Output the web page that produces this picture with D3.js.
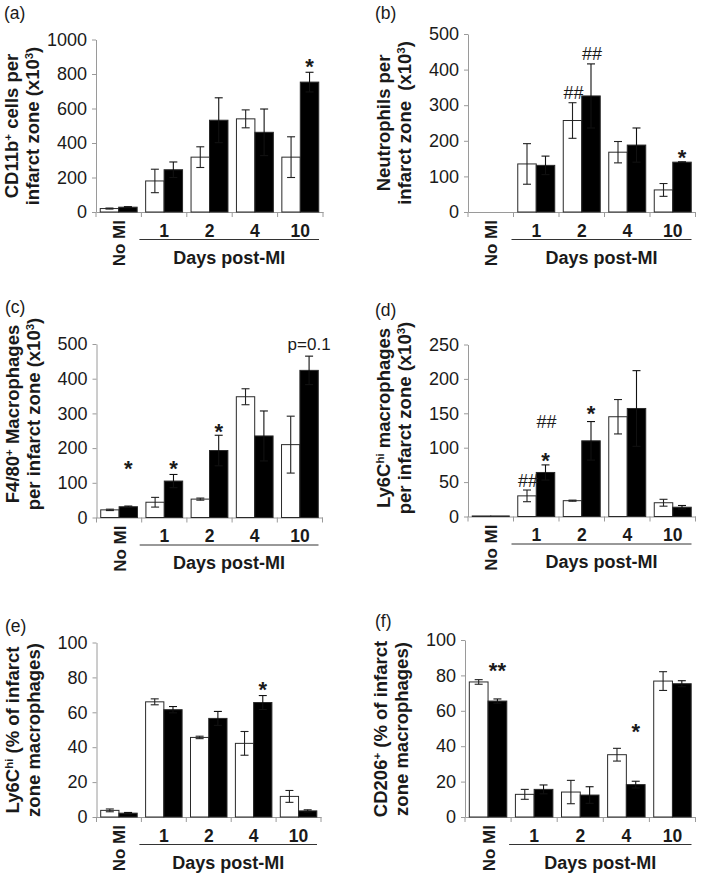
<!DOCTYPE html>
<html><head><meta charset="utf-8">
<script src="https://cdn.jsdelivr.net/npm/d3@7"></script>
<style>
body{margin:0;background:#fff;}
svg{display:block;font-family:"Liberation Sans",Arial,Helvetica,sans-serif;}
</style></head><body>
<svg id="chart" width="709" height="873"></svg>
<script>
// ---------- DATA ----------
const categories = ["No MI", "1", "2", "4", "10"];
const seriesNames = ["white", "black"];
const xGroupLabel = "Days post-MI";

// (a) CD11b+ cells
const aWhite = [20, 180, 318, 540, 318], aWhiteErr = [3, 68, 60, 52, 118];
const aBlack = [28, 245, 532, 462, 753], aBlackErr = [3, 45, 130, 135, 57];
const aTicks = [0, 200, 400, 600, 800, 1000];
const aNotes = [{cat: "10", s: "black", label: "*", level: 874}];

// (b) Neutrophils
const bWhite = [0, 135, 257, 168, 62], bWhiteErr = [0, 57, 50, 30, 18];
const bBlack = [0, 131, 326, 188, 140], bBlackErr = [0, 26, 90, 48, 1];
const bTicks = [0, 100, 200, 300, 400, 500];
const bNotes = [{cat: "2", s: "white", label: "##", level: 336},
                {cat: "2", s: "black", label: "##", level: 444},
                {cat: "10", s: "black", label: "*", level: 169}];

// (c) F4/80+ macrophages
const cWhite = [22, 44, 53, 348, 210], cWhiteErr = [2, 14, 3, 23, 82];
const cBlack = [31, 105, 193, 235, 424], cBlackErr = [2, 19, 44, 72, 41];
const cTicks = [0, 100, 200, 300, 400, 500];
const cNotes = [{cat: "No MI", s: "black", label: "*", level: 157},
                {cat: "1", s: "black", label: "*", level: 157},
                {cat: "2", s: "black", label: "*", level: 264},
                {cat: "10", s: "black", label: "p=0.1", level: 499}];

// (d) Ly6Chi macrophages
const dWhite = [0.8, 30, 23, 145, 20], dWhiteErr = [0, 8.5, 0.8, 25, 5];
const dBlack = [0.8, 64, 110, 157, 13.5], dBlackErr = [0, 11, 28, 55, 2.5];
const dTicks = [0, 50, 100, 150, 200, 250];
const dNotes = [{cat: "1", s: "white", label: "##", level: 53},
                {cat: "1", s: "black", label: "*", level: 89},
                {cat: "1", s: "black", label: "##", level: 138},
                {cat: "2", s: "black", label: "*", level: 158}];

// (e) Ly6Chi % of macrophages
const eWhite = [3.8, 66, 45.6, 42.2, 11.8], eWhiteErr = [0.8, 1.7, 0.7, 6.8, 3.4];
const eBlack = [2.2, 61.5, 56.5, 65.6, 3.5], eBlackErr = [0.4, 1.8, 4, 4, 0.6];
const eTicks = [0, 20, 40, 60, 80, 100];
const eNotes = [{cat: "4", s: "black", label: "*", level: 76}];

// (f) CD206+ % of macrophages
const fWhite = [76.3, 12.8, 14.1, 35.2, 76.8], fWhiteErr = [1.3, 2.8, 6.6, 3.6, 5.3];
const fBlack = [65.5, 15.6, 12.4, 18.3, 75.3], fBlackErr = [1.2, 2.5, 4.7, 1.9, 1.7];
const fTicks = [0, 20, 40, 60, 80, 100];
const fNotes = [{cat: "No MI", s: "black", label: "**", level: 86},
                {cat: "4", s: "black", label: "*", level: 51}];

// y-axis titles (segments; sup = superscript)
const aTitle = [[{t: "CD11b"}, {t: "+", sup: 1}, {t: " cells per"}], [{t: "infarct zone (x10"}, {t: "3", sup: 1}, {t: ")"}]];
const bTitle = [[{t: "Neutrophils per"}], [{t: "infarct zone \u00a0(x10"}, {t: "3", sup: 1}, {t: ")"}]];
const cTitle = [[{t: "F4/80"}, {t: "+", sup: 1}, {t: " Macrophages"}], [{t: "per infarct zone (x10"}, {t: "3", sup: 1}, {t: ")"}]];
const dTitle = [[{t: "Ly6C"}, {t: "hi", sup: 1}, {t: " macrophages"}], [{t: "per infarct zone (x10"}, {t: "3", sup: 1}, {t: ")"}]];
const eTitle = [[{t: "Ly6C"}, {t: "hi", sup: 1}, {t: " (% of infarct"}], [{t: "zone macrophages)"}]];
const fTitle = [[{t: "CD206"}, {t: "+", sup: 1}, {t: " (% of infarct"}], [{t: "zone macrophages)"}]];

const panelLetters = ["(a)", "(b)", "(c)", "(d)", "(e)", "(f)"];

// ---------- LAYOUT ----------
const panels = [
  {white: aWhite, whiteErr: aWhiteErr, black: aBlack, blackErr: aBlackErr, ticks: aTicks, notes: aNotes, title: aTitle,
   x0: 96, x1: 323, y0: 212, yTop: 39.5, tcy: 126, lx: 4, ly: 19},
  {white: bWhite, whiteErr: bWhiteErr, black: bBlack, blackErr: bBlackErr, ticks: bTicks, notes: bNotes, title: bTitle,
   x0: 468, x1: 695.5, y0: 212, yTop: 34, tcy: 123, lx: 375, ly: 19},
  {white: cWhite, whiteErr: cWhiteErr, black: cBlack, blackErr: cBlackErr, ticks: cTicks, notes: cNotes, title: cTitle,
   x0: 96.5, x1: 322.5, y0: 517.5, yTop: 344, tcy: 414, lx: 5, ly: 313},
  {white: dWhite, whiteErr: dWhiteErr, black: dBlack, blackErr: dBlackErr, ticks: dTicks, notes: dNotes, title: dTitle,
   x0: 468, x1: 695.5, y0: 516.5, yTop: 344.5, tcy: 418, lx: 375, ly: 316},
  {white: eWhite, whiteErr: eWhiteErr, black: eBlack, blackErr: eBlackErr, ticks: eTicks, notes: eNotes, title: eTitle,
   x0: 96.5, x1: 321, y0: 817, yTop: 642.5, tcy: 730, lx: 5, ly: 632},
  {white: fWhite, whiteErr: fWhiteErr, black: fBlack, blackErr: fBlackErr, ticks: fTicks, notes: fNotes, title: fTitle,
   x0: 465, x1: 695.5, y0: 817, yTop: 640, tcy: 729, lx: 375, ly: 627}
];

const svg = d3.select("#chart");
const TEXT = "#1a1a1a", AXIS = "#9a9a9a";

function addSegments(sel, segs) {
  let back = false;
  segs.forEach(s => {
    const ts = sel.append("tspan").text(s.t);
    if (s.sup) {
      ts.attr("dy", "-0.5em").attr("font-size", "0.62em");
      back = true;
    } else if (back) {
      ts.attr("dy", "0.31em");
      back = false;
    }
  });
}

panels.forEach((p, i) => {
  const g = svg.append("g");
  const x = d3.scaleBand().domain(categories).range([p.x0, p.x1]).paddingInner(0).paddingOuter(0);
  const xs = d3.scaleBand().domain(seriesNames).range([0, x.bandwidth()]).paddingInner(0).paddingOuter(0.23);
  const y = d3.scaleLinear().domain([0, d3.max(p.ticks)]).range([p.y0, p.yTop]);

  // y axis
  const ya = g.append("g").attr("transform", `translate(${p.x0},0)`)
    .call(d3.axisLeft(y).tickValues(p.ticks).tickSize(4).tickSizeOuter(0).tickPadding(5).tickFormat(d3.format("d")));
  ya.select(".domain").attr("stroke", AXIS);
  ya.selectAll(".tick line").attr("stroke", AXIS);
  ya.selectAll(".tick text").attr("font-size", 18).attr("fill", TEXT)
    .attr("font-family", "'Liberation Sans', Arial, sans-serif");

  // x axis line + boundary ticks
  const xa = g.append("g").attr("transform", `translate(0,${p.y0})`)
    .call(d3.axisBottom(x).tickSize(0).tickSizeOuter(0).tickFormat(""));
  xa.select(".domain").attr("stroke", AXIS);
  xa.selectAll(".tick").remove();
  const bounds = categories.map(c => x(c)).concat([p.x1]);
  g.selectAll(".bt").data(bounds).enter().append("line")
    .attr("x1", d => d).attr("x2", d => d).attr("y1", p.y0).attr("y2", p.y0 + 5)
    .attr("stroke", AXIS);

  // bars
  const rows = [];
  categories.forEach((c, k) => {
    rows.push({c, s: "white", v: p.white[k], e: p.whiteErr[k]});
    rows.push({c, s: "black", v: p.black[k], e: p.blackErr[k]});
  });
  g.selectAll(".bar").data(rows.filter(r => r.v > 0)).enter().append("rect")
    .attr("x", r => x(r.c) + xs(r.s))
    .attr("y", r => y(r.v))
    .attr("width", xs.bandwidth())
    .attr("height", r => p.y0 - y(r.v))
    .attr("fill", r => r.s === "white" ? "#fff" : "#000")
    .attr("stroke", "#2a2a2a").attr("stroke-width", 1);

  // error bars
  const capW = 8;
  const eb = g.selectAll(".eb").data(rows.filter(r => r.e > 0)).enter().append("g")
    .attr("stroke", r => r.s === "white" ? "#222" : "#111").attr("stroke-width", 1.1);
  const cx = r => x(r.c) + xs(r.s) + xs.bandwidth() / 2;
  eb.append("line").attr("x1", cx).attr("x2", cx).attr("y1", r => y(Math.max(0, r.v - r.e))).attr("y2", r => y(r.v + r.e));
  eb.append("line").attr("x1", r => cx(r) - capW / 2).attr("x2", r => cx(r) + capW / 2).attr("y1", r => y(r.v + r.e)).attr("y2", r => y(r.v + r.e));
  eb.append("line").attr("x1", r => cx(r) - capW / 2).attr("x2", r => cx(r) + capW / 2).attr("y1", r => y(Math.max(0, r.v - r.e))).attr("y2", r => y(Math.max(0, r.v - r.e)));

  // annotations
  p.notes.forEach(n => {
    const isStar = /^\*+$/.test(n.label);
    const isHash = /^#+$/.test(n.label);
    const fs = isStar ? 22 : (isHash ? 18 : 17);
    const off = isStar ? 0.58 : 0.36;
    g.append("text")
      .attr("x", x(n.cat) + xs(n.s) + xs.bandwidth() / 2 + (isHash ? 1 : 0))
      .attr("y", y(n.level) + off * fs)
      .attr("text-anchor", "middle")
      .attr("font-size", fs)
      .attr("font-weight", isStar ? "bold" : "normal")
      .attr("fill", TEXT)
      .text(n.label);
  });

  // category labels
  categories.forEach(c => {
    const cxC = x(c) + x.bandwidth() / 2;
    if (c === "No MI") {
      g.append("text")
        .attr("transform", `translate(${cxC + 6.5},${p.y0 + 8}) rotate(-90)`)
        .attr("text-anchor", "end").attr("font-size", 17).attr("font-weight", "bold").attr("fill", TEXT)
        .text(c);
    } else {
      g.append("text").attr("x", cxC).attr("y", p.y0 + 24.5)
        .attr("text-anchor", "middle").attr("font-size", 17.5).attr("font-weight", "bold").attr("fill", TEXT)
        .text(c);
    }
  });

  // group underline and label
  const gx0 = x(categories[1]) - 2, gx1 = p.x1 - 4;
  g.append("line").attr("x1", gx0).attr("x2", gx1).attr("y1", p.y0 + 27.5).attr("y2", p.y0 + 27.5)
    .attr("stroke", "#333").attr("stroke-width", 1);
  g.append("text").attr("x", (gx0 + gx1) / 2).attr("y", p.y0 + 51.5)
    .attr("text-anchor", "middle").attr("font-size", 18).attr("font-weight", "bold").attr("fill", TEXT)
    .text(xGroupLabel);

  // y title
  p.title.forEach((line, li) => {
    const bx = p.x0 - (li === 0 ? 78 : 57);
    const t = g.append("text")
      .attr("transform", `translate(${bx},${p.tcy}) rotate(-90)`)
      .attr("text-anchor", "middle").attr("font-size", 18.5).attr("font-weight", "bold").attr("fill", TEXT)
      .style("white-space", "pre");
    addSegments(t, line);
  });

  // panel letter
  g.append("text").attr("x", p.lx).attr("y", p.ly).attr("font-size", 17.5).attr("fill", TEXT).text(panelLetters[i]);
});
</script>
</body></html>
